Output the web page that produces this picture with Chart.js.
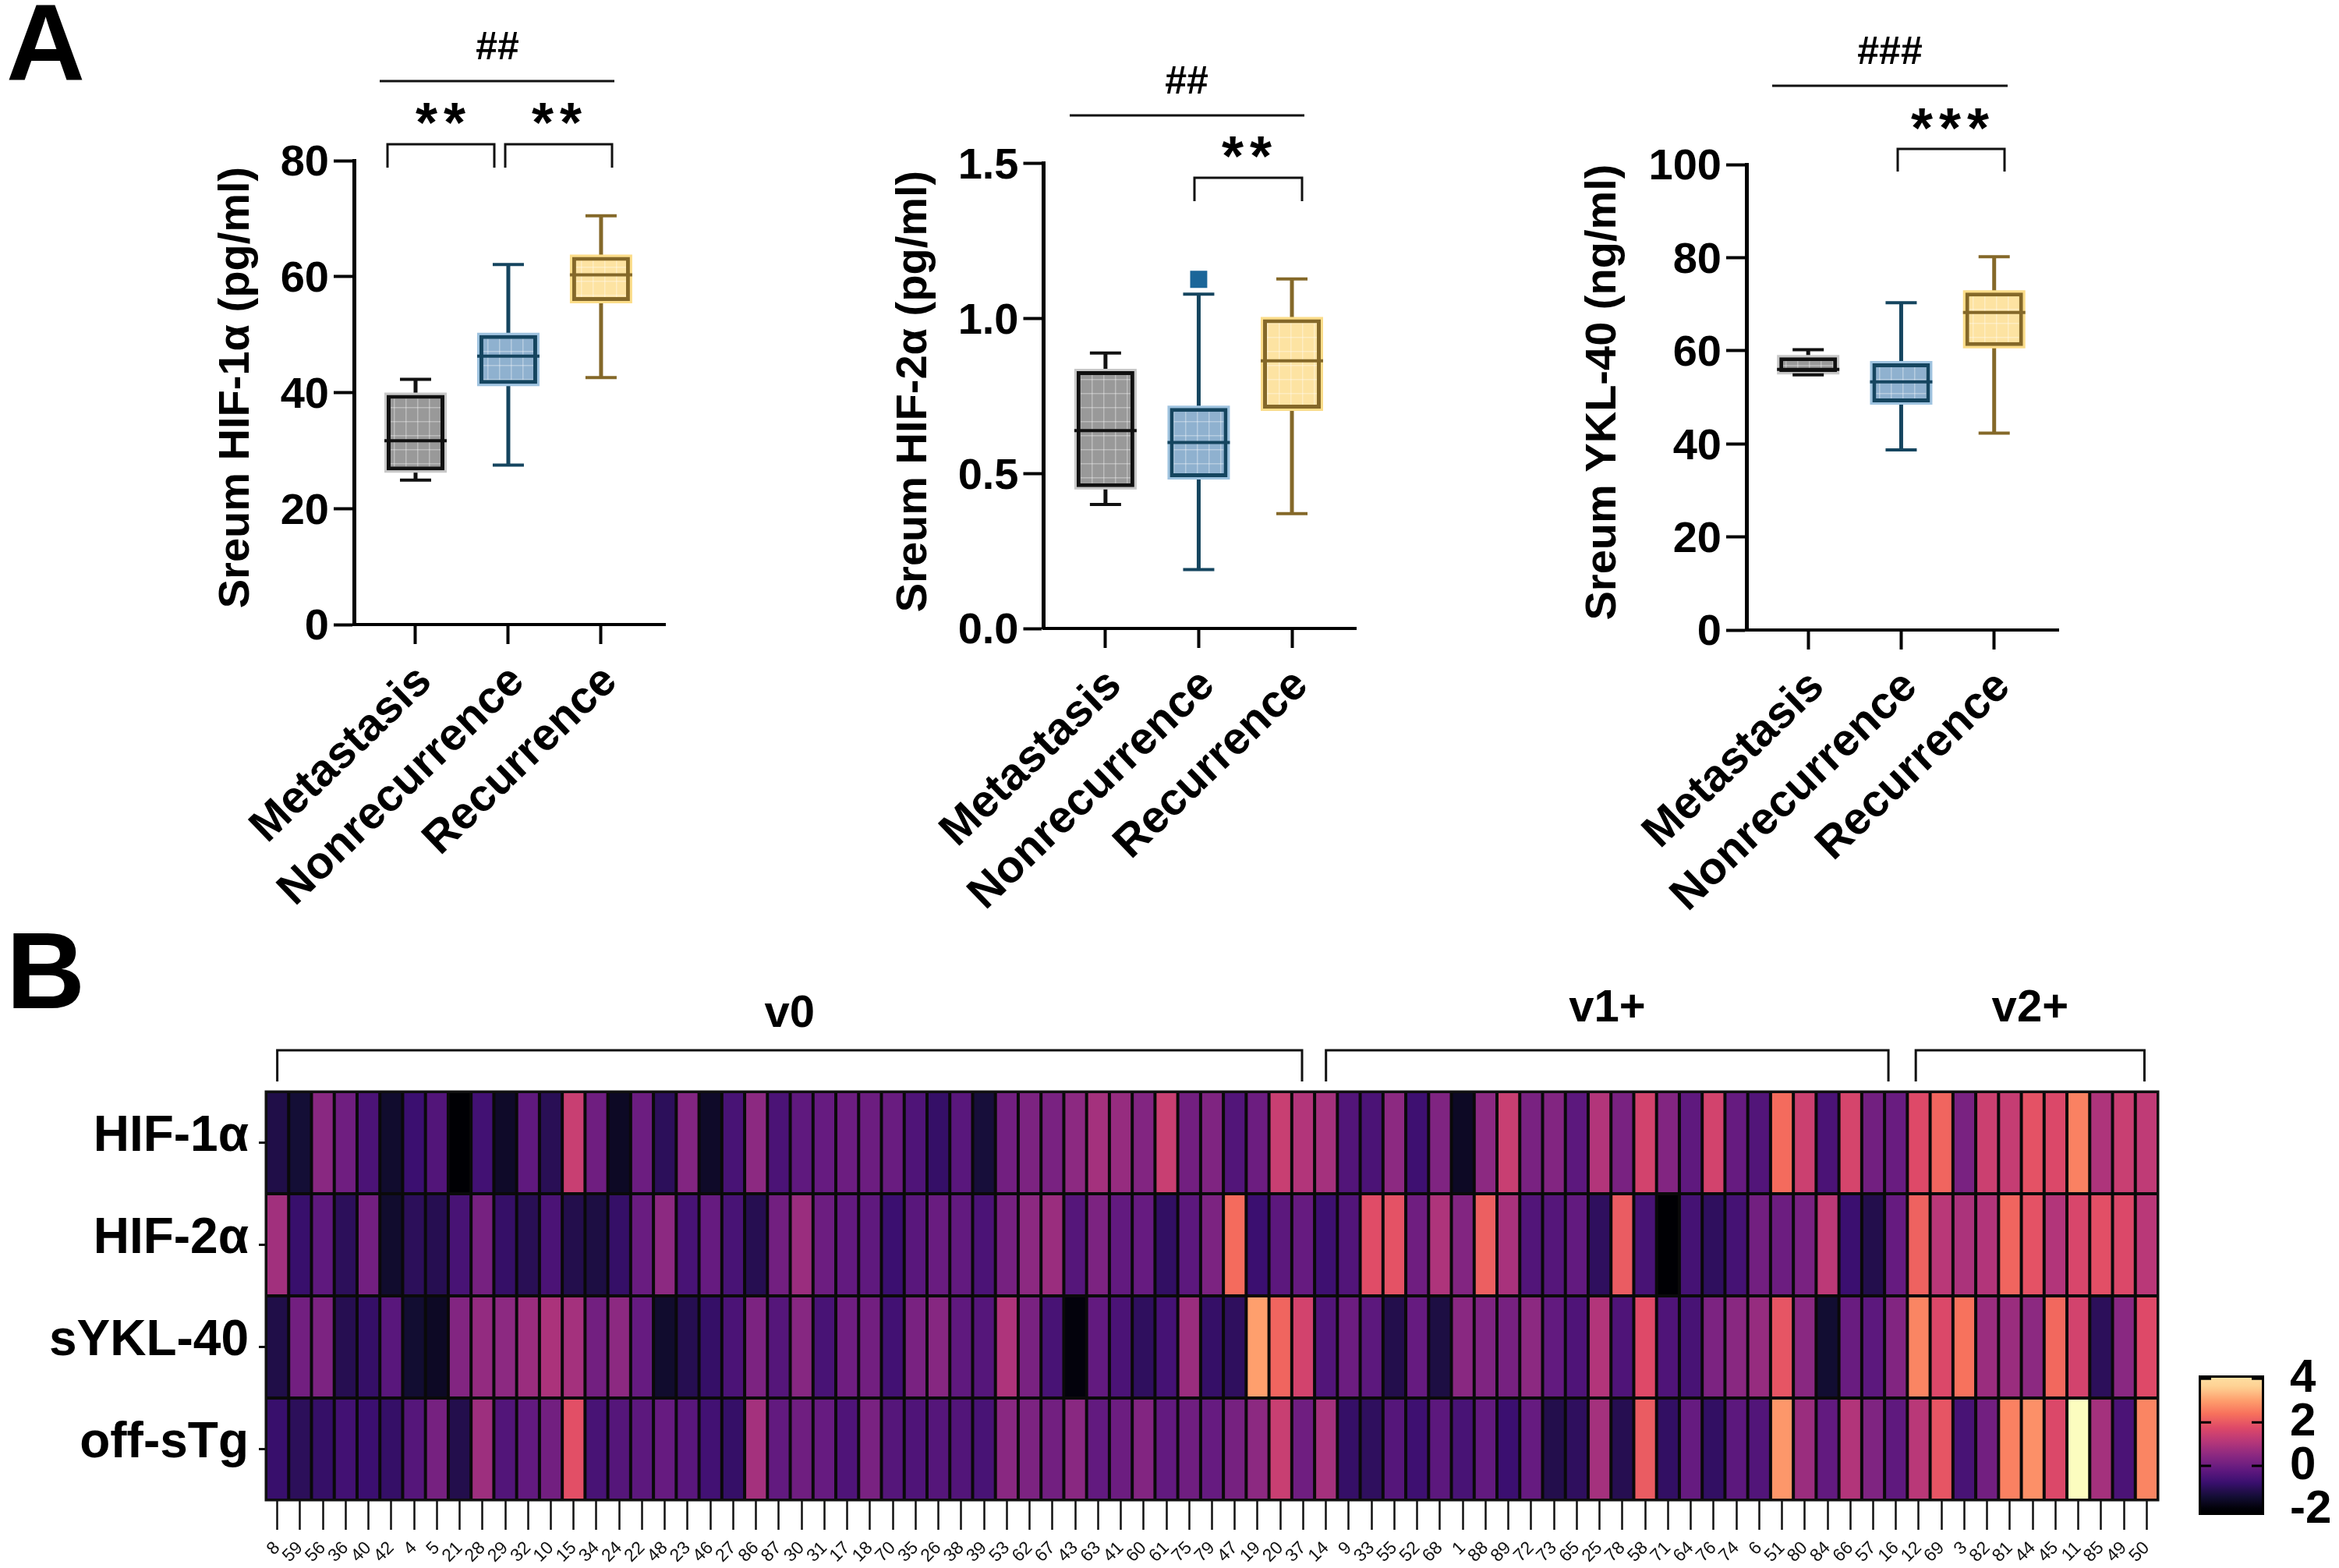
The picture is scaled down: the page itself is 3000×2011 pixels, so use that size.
<!DOCTYPE html>
<html>
<head>
<meta charset="utf-8">
<title>Serum markers</title>
<script src="https://cdn.jsdelivr.net/npm/chart.js@4"></script>
<style>
body { margin: 0; background: #fff; }
#page { position: relative; width: 3000px; height: 2011px; overflow: hidden; }
#page canvas { position: absolute; }
.letter { position: absolute; font: bold 140px 'Liberation Sans', Arial, sans-serif; line-height: 140px; color: #000; }
</style>
</head>
<body>
<div id="page">
  <div class="letter" style="left:8px;top:-15px">A</div>
  <div class="letter" style="left:8px;top:1175px">B</div>
  <canvas id="box1"></canvas>
  <canvas id="box2"></canvas>
  <canvas id="box3"></canvas>
  <canvas id="heat"></canvas>
  <canvas id="bar"></canvas>
</div>
<script>
// box plot data
var groups = ['Metastasis', 'Nonrecurrence', 'Recurrence'];

var hif1Low = [24.9, 27.5, 42.6];
var hif1Q1 = [26.6, 41.5, 55.8];
var hif1Median = [31.7, 46.3, 60.3];
var hif1Q3 = [39.6, 49.9, 63.4];
var hif1High = [42.3, 62.1, 70.5];
var hif1Ticks = [0, 20, 40, 60, 80];

var hif2Low = [0.40, 0.19, 0.37];
var hif2Q1 = [0.456, 0.488, 0.709];
var hif2Median = [0.638, 0.60, 0.863];
var hif2Q3 = [0.83, 0.711, 0.997];
var hif2High = [0.888, 1.078, 1.127];
var hif2Outliers = [null, 1.126, null];
var hif2Ticks = [0, 0.5, 1, 1.5];

var yklLow = [54.8, 38.7, 42.3];
var yklQ1 = [55.4, 48.9, 61];
var yklMedian = [56, 53.3, 68.2];
var yklQ3 = [58.6, 57.3, 72.5];
var yklHigh = [60.2, 70.3, 80.2];
var yklTicks = [0, 20, 40, 60, 80, 100];

// heatmap data
var samples = [8,59,56,36,40,42,4,5,21,28,29,32,10,15,34,24,22,48,23,46,27,86,87,30,31,17,18,70,35,26,38,39,53,62,67,43,63,41,60,61,75,79,47,19,20,37,14,9,33,55,52,68,1,88,89,72,73,65,25,78,58,71,64,76,74,6,51,80,84,66,57,16,12,69,3,82,81,44,45,11,85,49,50];
var rows = ['HIF-1α', 'HIF-2α', 'sYKL-40', 'off-sTg'];
var hif1Row = [-1.2,-1.4,.45,.05,-.5,-1.5,-.75,-.4,-2,-.65,-1.55,-.2,-1.05,1.4,.05,-1.6,0,-1,.35,-1.55,-.55,.5,-.5,-.2,-.1,0,0,-.05,-.45,-.85,-.3,-1.35,.1,.25,.2,.5,.85,.65,.35,1.4,.1,.3,-.4,0,1.4,1.05,.85,-.4,-.5,.5,-.7,.3,-1.6,.5,1.4,.2,.35,-.25,1.05,.2,1.55,.35,-.2,1.55,-.1,-.4,2.3,1.45,-.5,1.6,.1,-.05,1.75,2.2,.2,1.45,1.35,1.9,1.7,2.6,1,1.4,1.25];
var hif2Row = [.8,-.8,-.2,-1,.1,-1.5,-1,-1.1,-.55,.15,-.85,-1.05,-.5,-1.15,-1.25,-.85,-.05,.5,-.55,-.1,-.55,-1.1,.1,.7,0,-.15,-.2,-.75,-.3,-.05,-.15,-.5,.15,.5,.7,-.35,.25,-.15,-.1,-.9,-.25,.25,2.3,-.75,-.25,-.1,-.7,-.4,1.8,1.9,.05,1,.35,2.1,.9,-.4,-.35,-.15,-.95,2.05,-.55,-2,-.6,-.95,-.6,.1,0,.2,1.2,-.75,-1.15,-.1,2.15,1.15,.95,1.05,2.2,1.9,1.05,1.65,1.85,1.7,1.15];
var yklRow = [-1.2,.1,.25,-1.1,-.85,-.3,-1.45,-1.6,.35,.6,.5,.7,.95,.85,.1,.5,-.1,-1.5,-1.1,-.85,-.5,.25,-.35,.4,-.55,.05,.1,-.65,.2,.4,-.2,-.35,1,.2,-.55,-1.9,-.15,-.5,-.95,-.6,.7,-.85,-.95,3,2.2,1.55,-.4,0,-.25,-1.15,-.1,-1.25,.45,.3,.15,.5,-.15,-.45,1.05,-.45,1.75,-.45,-.55,.25,.45,.65,1.95,.45,-1.45,-.05,-.25,.35,2.65,1.7,2.4,.7,.7,.5,2.25,1.55,-1,.45,1.75];
var tgRow = [-.8,-1,-.85,-.65,-.75,-.85,-.35,.15,-1.15,.75,-.4,-.15,.1,1.85,-.55,-.35,-.25,-.1,-.3,-.65,-.85,.85,-.15,.05,-.1,-.45,.2,-.35,-.45,-.35,-.4,-.55,.45,.25,.1,.45,-.15,0,.35,-.15,.05,-.1,.15,.5,1.4,.05,.85,-.85,-.95,-.35,-.7,-.25,-.55,-.15,-.75,-.1,-1.15,-.95,.85,-1.1,2.05,-.9,-.1,-.9,-.25,-.4,2.9,.7,-.15,1.05,.3,-.2,1.15,1.95,-.55,.1,2.6,2.8,1.7,4.25,.85,-.5,2.65];
var barTicks = [-2, 0, 2, 4];
var sampleGroups = ['v0', 'v1+', 'v2+'];
var groupFirst = [0, 46, 71.87];
var groupLast = [44.95, 70.67, 81.9];

// colour map of the heatmap, value then colour
var colorStops = [[-2,'#000004'],[-1.4,'#140e36'],[-0.75,'#3b0f70'],[-0.125,'#641a80'],[0.5,'#8c2981'],[1.125,'#b73779'],[1.75,'#de4968'],[2.375,'#f7705c'],[3,'#fe9f6d'],[3.6,'#fecf92'],[4.15,'#fee3a5'],[4.25,'#fcfdbf']];

var FONT = "'Liberation Sans', Arial, sans-serif";
Chart.defaults.font.family = FONT;
Chart.defaults.color = '#000';
Chart.defaults.animation = false;
Chart.defaults.devicePixelRatio = 1;
Chart.defaults.plugins.legend.display = false;
Chart.defaults.plugins.tooltip.enabled = false;

function hex(c) {
  return [parseInt(c.substr(1, 2), 16), parseInt(c.substr(3, 2), 16), parseInt(c.substr(5, 2), 16)];
}

function valueColor(v) {
  var last = colorStops[colorStops.length - 1];
  if (v <= colorStops[0][0]) return colorStops[0][1];
  if (v >= last[0]) return last[1];
  for (var i = 1; i < colorStops.length; i++) {
    if (v <= colorStops[i][0]) {
      var a = colorStops[i - 1], b = colorStops[i];
      var f = (v - a[0]) / (b[0] - a[0]);
      var ca = hex(a[1]), cb = hex(b[1]);
      return 'rgb(' + ca.map(function (x, k) { return Math.round(x + (cb[k] - x) * f); }).join(',') + ')';
    }
  }
}

// little grid fill of the boxes
function gridFill(base) {
  var c = document.createElement('canvas');
  c.width = 15; c.height = 18;
  var g = c.getContext('2d');
  g.fillStyle = base;
  g.fillRect(0, 0, 15, 18);
  g.fillStyle = 'rgba(255,255,255,0.35)';
  g.fillRect(0, 0, 15, 1.5);
  g.fillRect(0, 0, 1.5, 18);
  return g.createPattern(c, 'repeat');
}

var lineColors = ['#111111', '#15455f', '#846829'];
var haloColors = ['#c8c8c8', '#9fc3df', '#fbdd8a'];
var boxFills = [gridFill('#999999'), gridFill('#8fb1cf'), gridFill('#fde3a2')];

// lines and texts around a chart, in page pixels
function notes(left, top, lines, texts) {
  return {
    id: 'notes',
    afterDraw: function (chart) {
      var ctx = chart.ctx;
      ctx.save();
      ctx.translate(-left, -top);
      ctx.strokeStyle = '#111';
      ctx.lineWidth = 3;
      lines.forEach(function (p) {
        ctx.beginPath();
        ctx.moveTo(p[0], p[1]);
        for (var i = 2; i < p.length; i += 2) ctx.lineTo(p[i], p[i + 1]);
        ctx.stroke();
      });
      ctx.fillStyle = '#000';
      ctx.textAlign = 'center';
      ctx.textBaseline = 'alphabetic';
      texts.forEach(function (t) {
        ctx.font = 'bold ' + t.size + 'px ' + FONT;
        ctx.letterSpacing = (t.gap || 0) + 'px';
        var m = ctx.measureText(t.text);
        ctx.save();
        ctx.translate(t.x, t.y);
        if (t.upright) ctx.rotate(-Math.PI / 2);
        ctx.fillText(t.text, 0, (m.actualBoundingBoxAscent - m.actualBoundingBoxDescent) / 2);
        ctx.restore();
      });
      ctx.restore();
    }
  };
}

function place(id, left, top, width, height) {
  var c = document.getElementById(id);
  c.style.left = left + 'px';
  c.style.top = top + 'px';
  c.width = width;
  c.height = height;
  c.style.width = width + 'px';
  c.style.height = height + 'px';
  return c;
}

function points(list) {
  var out = [];
  list.forEach(function (v, i) { if (v !== null) out.push({ x: i + 1, y: v }); });
  return out;
}

function floats(lo, hi) {
  return lo.map(function (v, i) { return { x: i + 1, y: [v, hi[i]] }; });
}

function boxChart(o) {
  var canvas = place(o.id, o.left, 0, o.width, 1180);
  var datasets = [
    { data: floats(o.low, o.high), barThickness: 5, backgroundColor: lineColors, inflateAmount: 0, grouped: false, order: 6 },
    { data: floats(o.q1, o.q3), barThickness: 74, backgroundColor: haloColors, inflateAmount: 3, grouped: false, order: 5 },
    { data: floats(o.q1, o.q3), barThickness: 74, backgroundColor: boxFills, borderColor: lineColors, borderWidth: 5, borderSkipped: false, inflateAmount: 0, grouped: false, order: 4 },
    { type: 'scatter', data: points(o.median), pointStyle: 'line', pointRadius: 40, pointBorderWidth: 4, pointBorderColor: lineColors, order: 3 },
    { type: 'scatter', data: points(o.low), pointStyle: 'line', pointRadius: 20, pointBorderWidth: 4, pointBorderColor: lineColors, order: 2 },
    { type: 'scatter', data: points(o.high), pointStyle: 'line', pointRadius: 20, pointBorderWidth: 4, pointBorderColor: lineColors, order: 2 }
  ];
  if (o.outliers) {
    datasets.push({ type: 'scatter', data: points(o.outliers), pointStyle: 'rect', pointRadius: 15.5, pointBackgroundColor: '#1b6699', pointBorderWidth: 0, order: 1 });
  }
  new Chart(canvas, {
    type: 'bar',
    data: { datasets: datasets },
    options: {
      responsive: false,
      layout: { autoPadding: false, padding: { top: o.top, right: o.width - (o.right - o.left), left: 0, bottom: 0 } },
      scales: {
        x: {
          type: 'linear', min: 0.336, max: 3.69, offset: false,
          afterBuildTicks: function (s) { s.ticks = [{ value: 1 }, { value: 2 }, { value: 3 }]; },
          afterFit: function (s) { s.height = 1180 - o.bottom; s.paddingLeft = 0; s.paddingRight = 0; },
          border: { color: '#000', width: 4 },
          grid: { offset: false, drawOnChartArea: false, tickLength: 25, tickWidth: 4, tickColor: '#000' },
          ticks: {
            autoSkip: false, minRotation: 44, maxRotation: 44, padding: 14, labelOffset: 12,
            font: { size: 58, weight: 'bold' },
            callback: function (v) { return groups[v - 1]; }
          }
        },
        y: {
          min: 0, max: o.ticks[o.ticks.length - 1],
          afterBuildTicks: function (s) { s.ticks = o.ticks.map(function (v) { return { value: v }; }); },
          afterFit: function (s) { s.width = o.axis - o.left; },
          border: { color: '#000', width: 5 },
          grid: { drawOnChartArea: false, tickLength: 26, tickWidth: 4, tickColor: '#000' },
          ticks: {
            autoSkip: false, padding: 6, labelOffset: 4,
            font: { size: 56, weight: 'bold' },
            callback: function (v) { return o.decimals ? v.toFixed(o.decimals) : v; }
          }
        }
      }
    },
    plugins: [notes(o.left, 0, o.lines, o.texts)]
  });
}

boxChart({
  id: 'box1', left: 250, width: 640, axis: 454, right: 853, top: 206, bottom: 801,
  ticks: hif1Ticks,
  low: hif1Low, q1: hif1Q1, median: hif1Median, q3: hif1Q3, high: hif1High,
  lines: [[487, 104, 788, 104], [497, 215, 497, 185, 634, 185, 634, 215], [648, 215, 648, 185, 785, 185, 785, 215]],
  texts: [
    { text: 'Sreum HIF-1α (pg/ml)', x: 305, y: 497, size: 56, upright: true },
    { text: '##', x: 638, y: 58, size: 50 }, { text: '**', x: 569, y: 145, size: 72, gap: 8 }, { text: '**', x: 718, y: 145, size: 72, gap: 8 }
  ]
});

boxChart({
  id: 'box2', left: 1130, width: 650, axis: 1338.5, right: 1739.5, top: 209.5, bottom: 806, decimals: 1,
  ticks: hif2Ticks,
  low: hif2Low, q1: hif2Q1, median: hif2Median, q3: hif2Q3, high: hif2High, outliers: hif2Outliers,
  lines: [[1372, 148, 1673, 148], [1532, 258, 1532, 228, 1670, 228, 1670, 258]],
  texts: [
    { text: 'Sreum HIF-2α (pg/ml)', x: 1174, y: 502, size: 56, upright: true },
    { text: '##', x: 1522, y: 102, size: 50 }, { text: '**', x: 1603, y: 188, size: 72, gap: 8 }
  ]
});

boxChart({
  id: 'box3', left: 2020, width: 660, axis: 2240, right: 2640, top: 211, bottom: 808,
  ticks: yklTicks,
  low: yklLow, q1: yklQ1, median: yklMedian, q3: yklQ3, high: yklHigh,
  lines: [[2273, 110, 2575, 110], [2434, 220, 2434, 191, 2571, 191, 2571, 220]],
  texts: [
    { text: 'Sreum YKL-40 (ng/ml)', x: 2058, y: 503, size: 56, upright: true },
    { text: '###', x: 2424, y: 64, size: 50 }, { text: '***', x: 2505, y: 152, size: 72, gap: 8 }
  ]
});

// heatmap: one floating bar per cell
var heatRows = [hif1Row, hif2Row, yklRow, tgRow];
var heatSets = heatRows.map(function (vals, r) {
  return {
    data: vals.map(function () { return [r, r + 1]; }),
    backgroundColor: vals.map(valueColor),
    borderColor: '#0a0a0a',
    borderWidth: 2,
    borderSkipped: false,
    inflateAmount: 0,
    grouped: false,
    barPercentage: 1,
    categoryPercentage: 1
  };
});

var groupLabelY = [1301, 1294, 1294];
var heatFrame = {
  id: 'heatFrame',
  beforeDatasetsDraw: function (chart) {
    var a = chart.chartArea;
    chart.ctx.fillStyle = '#0a0a0a';
    chart.ctx.fillRect(a.left, a.top, a.right - a.left, a.bottom - a.top);
  },
  afterDraw: function (chart) {
    var ctx = chart.ctx, x = chart.scales.x, a = chart.chartArea;
    ctx.save();
    ctx.strokeStyle = '#111';
    ctx.lineWidth = 3;
    ctx.strokeRect(a.left, a.top, a.right - a.left, a.bottom - a.top);
    ctx.fillStyle = '#000';
    ctx.font = 'bold 58px ' + FONT;
    ctx.textAlign = 'center';
    ctx.textBaseline = 'middle';
    sampleGroups.forEach(function (name, i) {
      var x1 = x.getPixelForValue(groupFirst[i]), x2 = x.getPixelForValue(groupLast[i]);
      ctx.beginPath();
      ctx.moveTo(x1, a.top - 13);
      ctx.lineTo(x1, a.top - 53);
      ctx.lineTo(x2, a.top - 53);
      ctx.lineTo(x2, a.top - 13);
      ctx.stroke();
      ctx.fillText(name, (x1 + x2) / 2, groupLabelY[i] - 1240);
    });
    ctx.restore();
  }
};

new Chart(place('heat', 0, 1240, 2800, 771), {
  type: 'bar',
  data: { labels: samples, datasets: heatSets },
  options: {
    responsive: false,
    layout: { autoPadding: false, padding: { top: 160, right: 32, left: 0, bottom: 0 } },
    scales: {
      x: {
        afterFit: function (s) { s.height = 87; s.paddingLeft = 0; s.paddingRight = 0; },
        border: { display: false },
        grid: { offset: false, drawOnChartArea: false, tickLength: 38, tickWidth: 2.5, tickColor: '#111' },
        ticks: { autoSkip: false, minRotation: 45, maxRotation: 45, padding: 10, color: '#111', font: { size: 23 } }
      },
      y: {
        min: 0, max: 4, reverse: true,
        afterBuildTicks: function (s) { s.ticks = rows.map(function (n, i) { return { value: i + 0.5 }; }); },
        afterFit: function (s) { s.width = 341; },
        border: { display: false },
        grid: { drawOnChartArea: false, tickLength: 9, tickWidth: 3, tickColor: '#111' },
        ticks: {
          autoSkip: false, padding: 13, labelOffset: -7,
          font: { size: 64, weight: 'bold' },
          callback: function (v) { return rows[v - 0.5]; }
        }
      }
    }
  },
  plugins: [heatFrame]
});

// colour bar
var barMin = -2.25, barMax = 4.15;
var barMarks = {
  id: 'barMarks',
  afterDatasetsDraw: function (chart) {
    var ctx = chart.ctx, y = chart.scales.y, a = chart.chartArea;
    ctx.save();
    ctx.strokeStyle = '#000';
    ctx.lineWidth = 3;
    [0, 2, 4].forEach(function (v) {
      var p = y.getPixelForValue(v);
      ctx.beginPath();
      ctx.moveTo(a.left, p);
      ctx.lineTo(a.left + 16, p);
      ctx.moveTo(a.right - 16, p);
      ctx.lineTo(a.right, p);
      ctx.stroke();
    });
    ctx.restore();
  }
};

new Chart(place('bar', 2800, 1720, 200, 291), {
  type: 'bar',
  data: {
    labels: [''],
    datasets: [{
      data: [[barMin, barMax]],
      barPercentage: 1,
      categoryPercentage: 1,
      borderColor: '#000',
      borderWidth: 3,
      borderSkipped: false,
      inflateAmount: 0,
      backgroundColor: function (c) {
        var y = c.chart.scales.y;
        if (!c.chart.chartArea || !y) return '#000';
        var g = c.chart.ctx.createLinearGradient(0, y.getPixelForValue(barMin), 0, y.getPixelForValue(barMax));
        for (var i = 0; i <= 40; i++) {
          var v = barMin + (barMax - barMin) * i / 40;
          g.addColorStop(i / 40, valueColor(v));
        }
        return g;
      }
    }]
  },
  options: {
    responsive: false,
    layout: { autoPadding: false, padding: { top: 44, bottom: 68, left: 20, right: 0 } },
    scales: {
      x: { display: false },
      y: {
        position: 'right', min: barMin, max: barMax,
        afterBuildTicks: function (s) { s.ticks = barTicks.map(function (v) { return { value: v }; }); },
        afterFit: function (s) { s.width = 96; s.paddingTop = 0; s.paddingBottom = 0; },
        border: { display: false },
        grid: { display: false, drawTicks: false },
        ticks: { autoSkip: false, padding: 33, font: { size: 60, weight: 'bold' } }
      }
    }
  },
  plugins: [barMarks]
});
</script>
</body>
</html>
